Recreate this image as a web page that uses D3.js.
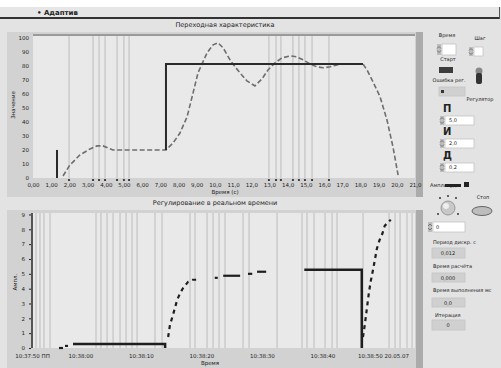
<!DOCTYPE html>
<html><head><meta charset="utf-8">
<script src="https://cdn.jsdelivr.net/npm/d3@7"></script>
<style>body{margin:0;background:#fff}svg{display:block}text{font-family:"DejaVu Sans",sans-serif}</style>
</head><body>
<svg id="c" width="501" height="368"></svg>
<script>
// ---------- DATA ----------
const topXTicks = d3.range(0, 22);
const topXLabels = ["0,00","1,00","2,00","3,00","4,00","5,00","6,00","7,00","8,00","9,00","10,0","11,0","12,0","13,0","14,0","15,0","16,0","17,0","18,0","19,0","20,0","21,0"];
const topYTicks = d3.range(0, 11);
const topYLabels = ["0","10","20","30","40","50","60","70","80","90","100"];
const topCursors = [1.98,3.30,3.63,3.96,4.62,5.00,5.28,12.97,13.36,13.63,14.29,14.62,14.95,15.34,16.27];
const spikeX = [1.32, 1.32];
const spikeY = [0, 2.0];
const stepX = [7.31, 7.31, 18.14];
const stepY = [2.0, 8.14, 8.14];
const respX = [1.65,2.03,2.58,3.13,3.52,3.85,4.12,4.40,7.31,7.70,8.08,8.47,8.80,9.07,9.57,9.90,10.17,10.45,10.83,11.11,11.38,11.76,12.20,12.59,12.92,13.30,13.69,14.13,14.51,14.84,15.23,15.61,15.94,16.33,16.71,16.88,18.14,18.36,18.69,19.08,19.46,19.79,20.07];
const respY = [0.14,0.93,1.64,2.07,2.29,2.29,2.14,2.00,2.00,2.50,3.21,4.36,6.07,7.50,8.93,9.50,9.64,9.29,8.43,7.93,7.50,6.93,6.57,7.07,7.71,8.21,8.57,8.71,8.64,8.43,8.14,7.93,7.86,7.93,8.07,8.14,8.14,7.71,6.86,5.79,4.14,2.21,0.21];

const botXTicks = [0, 8, 18, 28, 38, 48, 58];
const botXLabels = ["10:37:50 ПП","10:38:00","10:38:10","10:38:20","10:38:30","10:38:40","10:38:50 20.05.07"];
const botYTicks = d3.range(0, 10);
const botYLabels = ["0","1","2","3","4","5","6","7","8","9"];
const botCursors = [0.66,1.32,1.98,2.98,10.58,11.40,12.40,13.39,14.55,15.54,16.53,17.36,20.33,21.49,26.12,26.94,28.93,29.92,30.91,31.90,34.88,35.87,40.50,44.63,45.45,46.61,48.43,49.59,50.41,54.71,59.01,60.0,60.83,61.98,62.81];
const lowX = [6.78, 22.0, 22.0];
const lowY = [0.27, 0.27, 0];
const highX = [45.0, 54.5, 54.5];
const highY = [5.28, 5.28, 0];
const riseAX = [22.5,22.8,23.3,24.0,24.5,25.0,25.8,26.6,27.4];
const riseAY = [0.74,1.55,2.23,3.25,3.72,4.06,4.46,4.60,4.60];
const riseBX = [54.7,55.0,55.4,55.7,56.0,56.4,56.7,57.0,57.4,57.9,58.3,59.3];
const riseBY = [0.74,1.55,2.84,3.78,4.53,5.35,6.01,6.69,7.23,7.70,8.24,8.65];
const bitsX = [[4.46,5.12],[5.45,5.95],[30.2,30.7],[31.6,34.4],[35.7,36.4],[37.2,38.7]];
const bitsY = [[0.0,0.0],[0.14,0.14],[4.73,4.73],[4.87,4.87],[5.0,5.0],[5.14,5.14]];

// ---------- DRAW ----------
const svg = d3.select("#c");
const ink = "#222";
svg.append("rect").attr("x",0).attr("y",0).attr("width",501).attr("height",368).attr("fill","#e3e3e3");
svg.append("rect").attr("x",0).attr("y",0).attr("width",501).attr("height",7).attr("fill","#fff");
svg.append("rect").attr("x",0).attr("y",7).attr("width",501).attr("height",10).attr("fill","#e6e6e6");
svg.append("line").attr("x1",0).attr("x2",500).attr("y1",18).attr("y2",18).attr("stroke","#333").attr("stroke-width",2);
svg.append("line").attr("x1",499.5).attr("x2",499.5).attr("y1",7).attr("y2",19).attr("stroke","#555").attr("stroke-width",1);
svg.append("text").attr("x",37).attr("y",15).attr("font-size",7).attr("font-weight","bold").attr("fill",ink).text("• Адаптив");

function small(x,y,t,anchor,size){return svg.append("text").attr("x",x).attr("y",y).attr("font-size",size||6).attr("fill",ink).attr("text-anchor",anchor||"start").text(t);}

// ----- top chart -----
const xT = d3.scaleLinear().domain([0,21]).range([33,415]);
const yT = d3.scaleLinear().domain([0,10.2]).range([178,35]);
small(225,27,"Переходная характеристика","middle",6.5);
svg.append("rect").attr("x",7).attr("y",32).attr("width",416).attr("height",165).attr("fill","#d2d2d2");
svg.append("rect").attr("x",33).attr("y",35).attr("width",382).attr("height",143).attr("fill","#e9e9e9");
svg.append("rect").attr("x",416).attr("y",32).attr("width",7).attr("height",165).attr("fill","#ababab");
svg.append("line").attr("x1",33).attr("x2",415).attr("y1",35).attr("y2",35).attr("stroke","#9a9a9a").attr("stroke-width",2);
const gT = svg.append("g");
gT.selectAll("line.cur").data(topCursors).join("line").attr("x1",d=>xT(d)).attr("x2",d=>xT(d)).attr("y1",36).attr("y2",178).attr("stroke","#bcbcbc").attr("stroke-width",1);
gT.selectAll("circle.cd").data(topCursors).join("circle").attr("cx",d=>xT(d)).attr("cy",180).attr("r",1.1).attr("fill",ink);
const axXT = svg.append("g").attr("transform","translate(0,178)").call(d3.axisBottom(xT).tickValues(topXTicks).tickFormat((d,i)=>topXLabels[i]).tickSize(0).tickPadding(5));
axXT.select(".domain").remove();
axXT.selectAll("text").attr("font-size",5.5).attr("fill",ink).attr("font-family","DejaVu Sans");
const axYT = svg.append("g").attr("transform","translate(33,0)").call(d3.axisLeft(yT).tickValues(topYTicks).tickFormat((d,i)=>topYLabels[i]).tickSize(0).tickPadding(4));
axYT.select(".domain").remove();
axYT.selectAll("text").attr("font-size",5.5).attr("fill",ink).attr("font-family","DejaVu Sans");
small(225,194,"Время (с)","middle",5.5);
svg.append("text").attr("transform","translate(15,105) rotate(-90)").attr("font-size",5.5).attr("fill",ink).attr("text-anchor","middle").text("Значение");
const lT = d3.line().x(d=>xT(d[0])).y(d=>yT(d[1]));
gT.append("path").attr("d",lT(respX.map((x,i)=>[x,respY[i]]))).attr("fill","none").attr("stroke","#6e6e6e").attr("stroke-width",1.6).attr("stroke-dasharray","5,2.5");
gT.append("path").attr("d",lT(spikeX.map((x,i)=>[x,spikeY[i]]))).attr("fill","none").attr("stroke","#2a2a2a").attr("stroke-width",2);
gT.append("path").attr("d",lT(stepX.map((x,i)=>[x,stepY[i]]))).attr("fill","none").attr("stroke","#2a2a2a").attr("stroke-width",2);

// ----- bottom chart -----
const xB = d3.scaleLinear().domain([0,63.3]).range([32,415]);
const yB = d3.scaleLinear().domain([0,9.1]).range([348,213]);
small(215,205,"Регулирование в реальном времени","middle",6.5);
svg.append("rect").attr("x",7).attr("y",210).attr("width",416).attr("height",158).attr("fill","#d2d2d2");
svg.append("rect").attr("x",32).attr("y",213).attr("width",383).attr("height",135).attr("fill","#e9e9e9");
svg.append("rect").attr("x",416).attr("y",210).attr("width",7).attr("height",158).attr("fill","#ababab");
svg.append("line").attr("x1",32).attr("x2",32).attr("y1",213).attr("y2",348).attr("stroke","#555").attr("stroke-width",2);
const gB = svg.append("g");
gB.selectAll("line").data(botCursors).join("line").attr("x1",d=>xB(d)).attr("x2",d=>xB(d)).attr("y1",213).attr("y2",348).attr("stroke","#bcbcbc").attr("stroke-width",1);
const axXB = svg.append("g").attr("transform","translate(0,348)").call(d3.axisBottom(xB).tickValues(botXTicks).tickFormat((d,i)=>botXLabels[i]).tickSize(0).tickPadding(6));
axXB.select(".domain").remove();
axXB.selectAll("text").attr("font-size",5.5).attr("fill",ink).attr("font-family","DejaVu Sans");
const axYB = svg.append("g").attr("transform","translate(31,0)").call(d3.axisLeft(yB).tickValues(botYTicks).tickFormat((d,i)=>botYLabels[i]).tickSize(2).tickPadding(4));
axYB.select(".domain").remove();
axYB.selectAll("line").attr("stroke",ink);
axYB.selectAll("text").attr("font-size",5.5).attr("fill",ink).attr("font-family","DejaVu Sans");
small(210,365,"Время","middle",5.5);
svg.append("text").attr("transform","translate(17,282) rotate(-90)").attr("font-size",5.5).attr("fill",ink).attr("text-anchor","middle").text("Ампл.");
const lB = d3.line().x(d=>xB(d[0])).y(d=>yB(d[1]));
const blk = "#1e1e1e";
gB.append("path").attr("d",lB(lowX.map((x,i)=>[x,lowY[i]]))).attr("fill","none").attr("stroke",blk).attr("stroke-width",2.5);
gB.append("path").attr("d",lB(highX.map((x,i)=>[x,highY[i]]))).attr("fill","none").attr("stroke",blk).attr("stroke-width",2.5);
gB.append("path").attr("d",lB(riseAX.map((x,i)=>[x,riseAY[i]]))).attr("fill","none").attr("stroke",blk).attr("stroke-width",2.2).attr("stroke-dasharray","4,4");
gB.append("path").attr("d",lB(riseBX.map((x,i)=>[x,riseBY[i]]))).attr("fill","none").attr("stroke",blk).attr("stroke-width",2.2).attr("stroke-dasharray","4,4");
bitsX.forEach((xs,j)=>{gB.append("path").attr("d",lB(xs.map((x,i)=>[x,bitsY[j][i]]))).attr("fill","none").attr("stroke",blk).attr("stroke-width",2.2);});

// ----- right panel controls -----
function box(x,y,w,h,fill,spin){
  svg.append("rect").attr("x",x).attr("y",y).attr("width",w).attr("height",h).attr("fill",fill).attr("stroke","#c4c4c4").attr("stroke-width",0.8);
  if(spin){svg.append("rect").attr("x",x-5).attr("y",y).attr("width",4).attr("height",h).attr("fill","#bdbdbd");
    svg.append("path").attr("d",`M${x-5},${y+h/2-1}l2,-2l2,2M${x-5},${y+h/2+1}l2,2l2,-2`).attr("stroke","#555").attr("fill","none").attr("stroke-width",0.7);}
}
small(447,37,"Время","middle",5);
box(442,44,14,11,"#fff",true);
small(480,40,"Шаг","middle",5);
box(474,47,9,9,"#fff",true);
small(448,61,"Старт","middle",5);
svg.append("rect").attr("x",439).attr("y",67).attr("width",14).attr("height",6).attr("fill","#3c3c3c");
svg.append("circle").attr("cx",479).attr("cy",71).attr("r",3.5).attr("fill","#888");
svg.append("rect").attr("x",476).attr("y",73).attr("width",6).attr("height",11).attr("rx",2).attr("fill","#333");
small(449,82,"Ошибка рег.","middle",5);
box(439,87,26,9,"#d0d0d0",false);
svg.append("rect").attr("x",441).attr("y",90).attr("width",3).attr("height",3).attr("fill","#333");
small(480,101,"Регулятор","middle",5);
small(443,112,"П","start",10).attr("font-weight","bold");
box(445,116,29,9,"#fff",true);
small(449,122,"5,0","start",5);
small(443,135,"И","start",10).attr("font-weight","bold");
box(445,139,29,9,"#fff",true);
small(449,145,"2,0","start",5);
small(443,159,"Д","start",10).attr("font-weight","bold");
box(445,163,29,9,"#fff",true);
small(449,169,"0,2","start",5);
small(430,187,"Амплитуда","start",5);
svg.append("rect").attr("x",445).attr("y",184).attr("width",16).attr("height",3).attr("fill","#222");
svg.append("rect").attr("x",464).attr("y",182).attr("width",5).attr("height",5).attr("fill","#222");
svg.append("circle").attr("cx",448).attr("cy",208).attr("r",7).attr("fill","#c8c8c8").attr("stroke","#999");
svg.append("circle").attr("cx",446).attr("cy",206).attr("r",3).attr("fill","#eee");
[[440,198],[456,198],[438,214],[458,214],[448,196]].forEach(p=>svg.append("circle").attr("cx",p[0]).attr("cy",p[1]).attr("r",0.9).attr("fill",ink));
small(483,199,"Стоп","middle",5);
svg.append("ellipse").attr("cx",482).attr("cy",211).attr("rx",10).attr("ry",4.5).attr("fill","#bdbdbd").attr("stroke","#666");
box(433,222,32,10,"#fff",true);
small(436,229,"0","start",5);
small(433,244,"Период дискр. с","start",5);
box(432,248,33,10,"#d0d0d0",false);
small(448,255,"0,012","middle",5);
small(433,268,"Время расчёта","start",5);
box(432,273,33,9,"#d0d0d0",false);
small(448,280,"0,000","middle",5);
small(433,292,"Время выполнения мс","start",5);
box(432,298,33,9,"#d0d0d0",false);
small(448,305,"0,0","middle",5);
small(435,317,"Итерация","start",5);
box(432,320,33,10,"#d0d0d0",false);
small(448,327,"0","middle",5);
</script>
</body></html>
